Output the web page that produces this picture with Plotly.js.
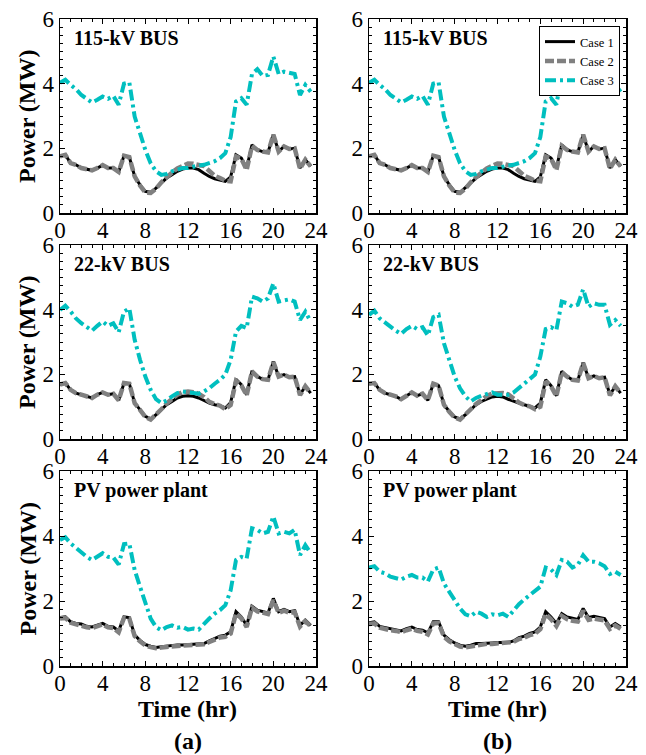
<!DOCTYPE html>
<html>
<head>
<meta charset="utf-8">
<script src="https://cdn.plot.ly/plotly-3.0.1.min.js"></script>
<style>
  html, body { margin: 0; padding: 0; background: #fff; }
  #chart { width: 646px; height: 755px; }
</style>
</head>
<body>
<div id="chart"></div>
<script>
// Time of day (hr), half-hour samples
const hours = [0,0.5,1,1.5,2,2.5,3,3.5,4,4.5,5,5.5,6,6.5,7,7.5,8,8.5,9,9.5,
  10,10.5,11,11.5,12,12.5,13,13.5,14,14.5,15,15.5,16,16.5,17,17.5,18,18.5,19,19.5,
  20,20.5,21,21.5,22,22.5,23,23.5];

const caseNames = ['Case 1', 'Case 2', 'Case 3'];
const panelLabels = ['115-kV BUS', '115-kV BUS', '22-kV BUS', '22-kV BUS', 'PV power plant', 'PV power plant'];
const xTicks = [0, 4, 8, 12, 16, 20, 24];
const yTicks = [0, 2, 4, 6];

// 115-kV bus (same in both scenarios)
const bus115_case1 = [1.75,1.8,1.54,1.49,1.39,1.36,1.32,1.39,1.48,1.39,
  1.39,1.27,1.77,1.73,1.13,0.87,0.67,0.64,0.77,0.93,
  1.08,1.18,1.29,1.36,1.39,1.39,1.34,1.23,1.13,1.06,
  1.03,0.98,1.12,1.8,1.7,1.39,2.11,1.95,1.9,1.87,
  2.42,1.9,2.06,1.98,2.0,1.39,1.65,1.44];
const bus115_case2 = [1.75,1.8,1.54,1.49,1.39,1.36,1.32,1.39,1.48,1.39,
  1.39,1.27,1.77,1.73,1.13,0.85,0.63,0.62,0.75,0.95,
  1.12,1.25,1.38,1.47,1.53,1.52,1.5,1.45,1.3,1.15,
  1.08,1.0,0.98,1.75,1.68,1.33,2.08,1.95,1.9,1.87,
  2.42,1.9,2.06,1.98,2.0,1.37,1.65,1.44];
const bus115_case3 = [4.03,4.12,3.96,3.83,3.65,3.55,3.42,3.5,3.6,3.53,
  3.62,3.35,4.0,4.04,2.98,2.47,1.95,1.54,1.29,1.18,
  1.21,1.29,1.34,1.39,1.39,1.44,1.47,1.49,1.54,1.6,
  1.7,1.85,2.35,3.45,3.55,3.35,4.3,4.45,4.24,4.27,
  4.84,4.3,4.37,4.34,4.3,3.65,3.96,3.75];

// 22-kV bus, scenario (a)
const bus22a_case1 = [1.68,1.73,1.52,1.42,1.37,1.32,1.27,1.37,1.44,1.37,
  1.4,1.2,1.73,1.71,1.11,0.91,0.7,0.62,0.75,0.91,
  1.06,1.16,1.27,1.32,1.34,1.32,1.27,1.19,1.11,1.06,
  1.03,0.96,1.13,1.85,1.68,1.37,2.11,1.93,1.85,1.83,
  2.4,1.93,1.99,1.91,1.93,1.37,1.63,1.42];
const bus22a_case2 = [1.68,1.73,1.52,1.42,1.37,1.32,1.27,1.37,1.44,1.37,
  1.4,1.2,1.73,1.71,1.11,0.9,0.68,0.6,0.74,0.92,
  1.1,1.25,1.37,1.45,1.47,1.45,1.4,1.3,1.15,1.08,
  1.03,0.92,1.05,1.8,1.66,1.35,2.09,1.93,1.85,1.83,
  2.38,1.93,1.99,1.91,1.93,1.36,1.63,1.42];
const bus22a_case3 = [3.99,4.12,3.94,3.73,3.58,3.46,3.35,3.5,3.63,3.5,
  3.58,3.3,3.94,4.04,3.07,2.45,1.93,1.52,1.23,1.11,
  1.19,1.32,1.42,1.47,1.44,1.42,1.4,1.47,1.57,1.71,
  1.83,1.99,2.45,3.32,3.5,3.43,4.4,4.35,4.25,4.35,
  4.81,4.25,4.3,4.32,4.25,3.68,3.94,3.63];

// 22-kV bus, scenario (b)
const bus22b_case1 = [1.71,1.73,1.52,1.42,1.37,1.32,1.23,1.34,1.44,1.34,
  1.4,1.2,1.71,1.65,1.06,0.85,0.68,0.62,0.75,0.91,
  1.06,1.16,1.23,1.3,1.32,1.3,1.23,1.16,1.11,1.06,
  1.01,0.96,1.11,1.83,1.65,1.34,2.09,1.93,1.83,1.81,
  2.37,1.88,1.95,1.88,1.91,1.37,1.63,1.42];
const bus22b_case2 = [1.71,1.73,1.52,1.42,1.37,1.32,1.23,1.34,1.44,1.34,
  1.4,1.2,1.71,1.65,1.06,0.84,0.66,0.6,0.74,0.92,
  1.08,1.22,1.33,1.4,1.42,1.42,1.38,1.25,1.13,1.05,
  1.01,0.92,1.0,1.78,1.63,1.32,2.07,1.93,1.83,1.81,
  2.35,1.88,1.95,1.88,1.91,1.35,1.63,1.42];
const bus22b_case3 = [3.84,3.97,3.73,3.6,3.46,3.35,3.25,3.4,3.5,3.4,
  3.46,3.2,3.77,3.84,2.96,2.4,1.93,1.57,1.32,1.16,
  1.27,1.34,1.4,1.44,1.37,1.37,1.37,1.44,1.57,1.71,
  1.83,1.99,2.55,3.4,3.46,3.37,4.25,4.2,4.09,4.15,
  4.63,4.09,4.2,4.15,4.15,3.53,3.68,3.5];

// PV power plant, scenario (a)
const pvA_case1 = [1.49,1.51,1.36,1.31,1.29,1.22,1.2,1.25,1.31,1.22,
  1.2,1.08,1.51,1.49,0.95,0.79,0.66,0.61,0.57,0.59,
  0.61,0.64,0.65,0.65,0.66,0.66,0.66,0.69,0.77,0.84,
  0.92,0.95,1.05,1.67,1.51,1.25,1.84,1.72,1.67,1.63,
  2.08,1.67,1.74,1.67,1.7,1.25,1.41,1.25];
const pvA_case2 = [1.46,1.48,1.33,1.28,1.26,1.19,1.17,1.22,1.28,1.19,
  1.17,1.04,1.48,1.46,0.92,0.76,0.63,0.58,0.55,0.57,
  0.59,0.62,0.63,0.63,0.64,0.64,0.64,0.67,0.74,0.8,
  0.88,0.9,1.0,1.62,1.47,1.2,1.8,1.68,1.63,1.6,
  2.03,1.63,1.7,1.64,1.66,1.21,1.38,1.22];
const pvA_case3 = [3.88,3.96,3.77,3.62,3.49,3.36,3.26,3.38,3.47,3.36,
  3.34,3.12,3.75,3.77,2.95,2.44,1.92,1.46,1.2,1.1,
  1.2,1.25,1.18,1.2,1.12,1.15,1.12,1.31,1.46,1.61,
  1.72,1.87,2.33,3.26,3.36,3.31,4.24,4.19,4.08,4.13,
  4.6,4.08,4.13,4.08,4.19,3.41,3.72,3.47];

// PV power plant, scenario (b)
const pvB_case1 = [1.33,1.36,1.22,1.18,1.15,1.12,1.08,1.15,1.2,1.12,
  1.1,1.02,1.36,1.36,0.95,0.81,0.71,0.64,0.61,0.64,
  0.69,0.69,0.71,0.71,0.72,0.72,0.72,0.77,0.87,0.92,
  1.0,1.05,1.2,1.67,1.51,1.31,1.61,1.51,1.46,1.43,
  1.77,1.49,1.53,1.49,1.46,1.2,1.31,1.2];
const pvB_case2 = [1.29,1.31,1.18,1.13,1.1,1.08,1.04,1.1,1.15,1.08,
  1.05,0.97,1.31,1.32,0.9,0.76,0.66,0.6,0.57,0.6,
  0.65,0.66,0.68,0.68,0.69,0.69,0.7,0.74,0.83,0.87,
  0.95,0.99,1.13,1.6,1.44,1.23,1.54,1.44,1.39,1.37,
  1.7,1.42,1.46,1.43,1.4,1.14,1.25,1.14];
const pvB_case3 = [3.03,3.07,2.9,2.85,2.75,2.72,2.66,2.75,2.8,2.72,
  2.72,2.6,2.97,3.03,2.54,2.28,2.03,1.77,1.59,1.53,
  1.67,1.61,1.51,1.59,1.56,1.61,1.51,1.72,1.9,2.05,
  2.18,2.28,2.44,3.03,2.97,2.8,3.26,3.21,3.03,3.11,
  3.41,3.21,3.21,3.16,3.07,2.83,2.9,2.8];

// Panel order: (a) top, (b) top, (a) mid, (b) mid, (a) bottom, (b) bottom
const panels = [
  [bus115_case1, bus115_case2, bus115_case3],
  [bus115_case1, bus115_case2, bus115_case3],
  [bus22a_case1, bus22a_case2, bus22a_case3],
  [bus22b_case1, bus22b_case2, bus22b_case3],
  [pvA_case1, pvA_case2, pvA_case3],
  [pvB_case1, pvB_case2, pvB_case3]
];

const W = 646, H = 755;
const serif = 'Liberation Serif';
const lineStyles = [
  { color: '#000000', width: 3, dash: 'solid' },
  { color: '#808080', width: 4.5, dash: '9px,3px' },
  { color: '#00BFBF', width: 4, dash: '11px,4px,3px,4px' }
];

// Plot-area boxes in pixels
const colX = [[60, 316], [369, 626]];
const rowY = [[19, 213], [245, 439], [471, 666]];

const traces = [];
const layout = {
  width: W, height: H,
  margin: { l: 0, r: 0, t: 0, b: 0 },
  font: { family: serif, color: '#000' },
  paper_bgcolor: '#ffffff',
  plot_bgcolor: '#ffffff',
  showlegend: true,
  legend: {
    x: 620 / W, xanchor: 'right',
    y: 1 - 26 / H, yanchor: 'top',
    bgcolor: '#ffffff', bordercolor: '#000000', borderwidth: 1,
    font: { family: serif, size: 12.5, color: '#000' },
    tracegroupgap: 0, itemwidth: 30
  },
  annotations: []
};

panels.forEach((series, i) => {
  const n = i + 1;
  const col = i % 2, row = Math.floor(i / 2);
  const xs = n === 1 ? '' : String(n);
  series.forEach((ys, k) => {
    traces.push({
      x: hours, y: ys, type: 'scatter', mode: 'lines',
      name: caseNames[k],
      legendgroup: caseNames[k],
      showlegend: n === 2,
      xaxis: 'x' + xs, yaxis: 'y' + xs,
      line: Object.assign({}, lineStyles[k]),
      hoverinfo: 'skip'
    });
  });

  const common = {
    ticks: 'inside', ticklen: 5, tickwidth: 1, tickcolor: '#000',
    showline: true, linecolor: '#000', linewidth: 1.5, mirror: 'allticks',
    showgrid: false, zeroline: false, fixedrange: true,
    tickfont: { family: serif, size: 23, color: '#000' }
  };
  layout['xaxis' + xs] = Object.assign({}, common, {
    domain: [colX[col][0] / W, colX[col][1] / W],
    anchor: 'y' + xs,
    ticklabelstandoff: -4,
    range: [0, 24], tickmode: 'array', tickvals: xTicks, ticktext: xTicks.map(String),
    minor: { ticks: 'inside', dtick: 1, tick0: 0, ticklen: 3, tickwidth: 1, tickcolor: '#000', showgrid: false }
  });
  layout['yaxis' + xs] = Object.assign({}, common, {
    domain: [1 - rowY[row][1] / H, 1 - rowY[row][0] / H],
    anchor: 'x' + xs,
    range: [0, 6], tickmode: 'array', tickvals: yTicks, ticktext: yTicks.map(String),
    minor: { ticks: 'inside', dtick: 0.25, tick0: 0, ticklen: 3, tickwidth: 1, tickcolor: '#000', showgrid: false }
  });

  // Location label inside each panel
  layout.annotations.push({
    text: panelLabels[i], showarrow: false,
    xref: 'x' + xs + ' domain', yref: 'y' + xs + ' domain',
    x: 12 / 256, y: 1 - 19 / 194, xanchor: 'left', yanchor: 'middle',
    font: { family: serif, size: 20, color: '#000', weight: 'bold' }
  });

  // Y-axis title on the left column only
  if (col === 0) {
    layout.annotations.push({
      text: 'Power (MW)', showarrow: false, textangle: -90,
      xref: 'paper', yref: 'paper',
      x: 27 / W, y: 1 - ((rowY[row][0] + rowY[row][1]) / 2) / H,
      xanchor: 'center', yanchor: 'middle',
      font: { family: serif, size: 24, color: '#000', weight: 'bold' }
    });
  }
  // X-axis title and sub-figure tag under the bottom row
  if (row === 2) {
    const cx = ((colX[col][0] + colX[col][1]) / 2) / W;
    layout.annotations.push({
      text: 'Time (hr)', showarrow: false,
      xref: 'paper', yref: 'paper', x: cx, y: 1 - 709 / H,
      xanchor: 'center', yanchor: 'middle',
      font: { family: serif, size: 24, color: '#000', weight: 'bold' }
    });
    layout.annotations.push({
      text: col === 0 ? '(a)' : '(b)', showarrow: false,
      xref: 'paper', yref: 'paper', x: cx, y: 0,
      xanchor: 'center', yanchor: 'bottom', borderpad: 0,
      font: { family: serif, size: 24, color: '#000', weight: 'bold' }
    });
  }
});

Plotly.newPlot('chart', traces, layout, { displayModeBar: false, staticPlot: true });
</script>
</body>
</html>
